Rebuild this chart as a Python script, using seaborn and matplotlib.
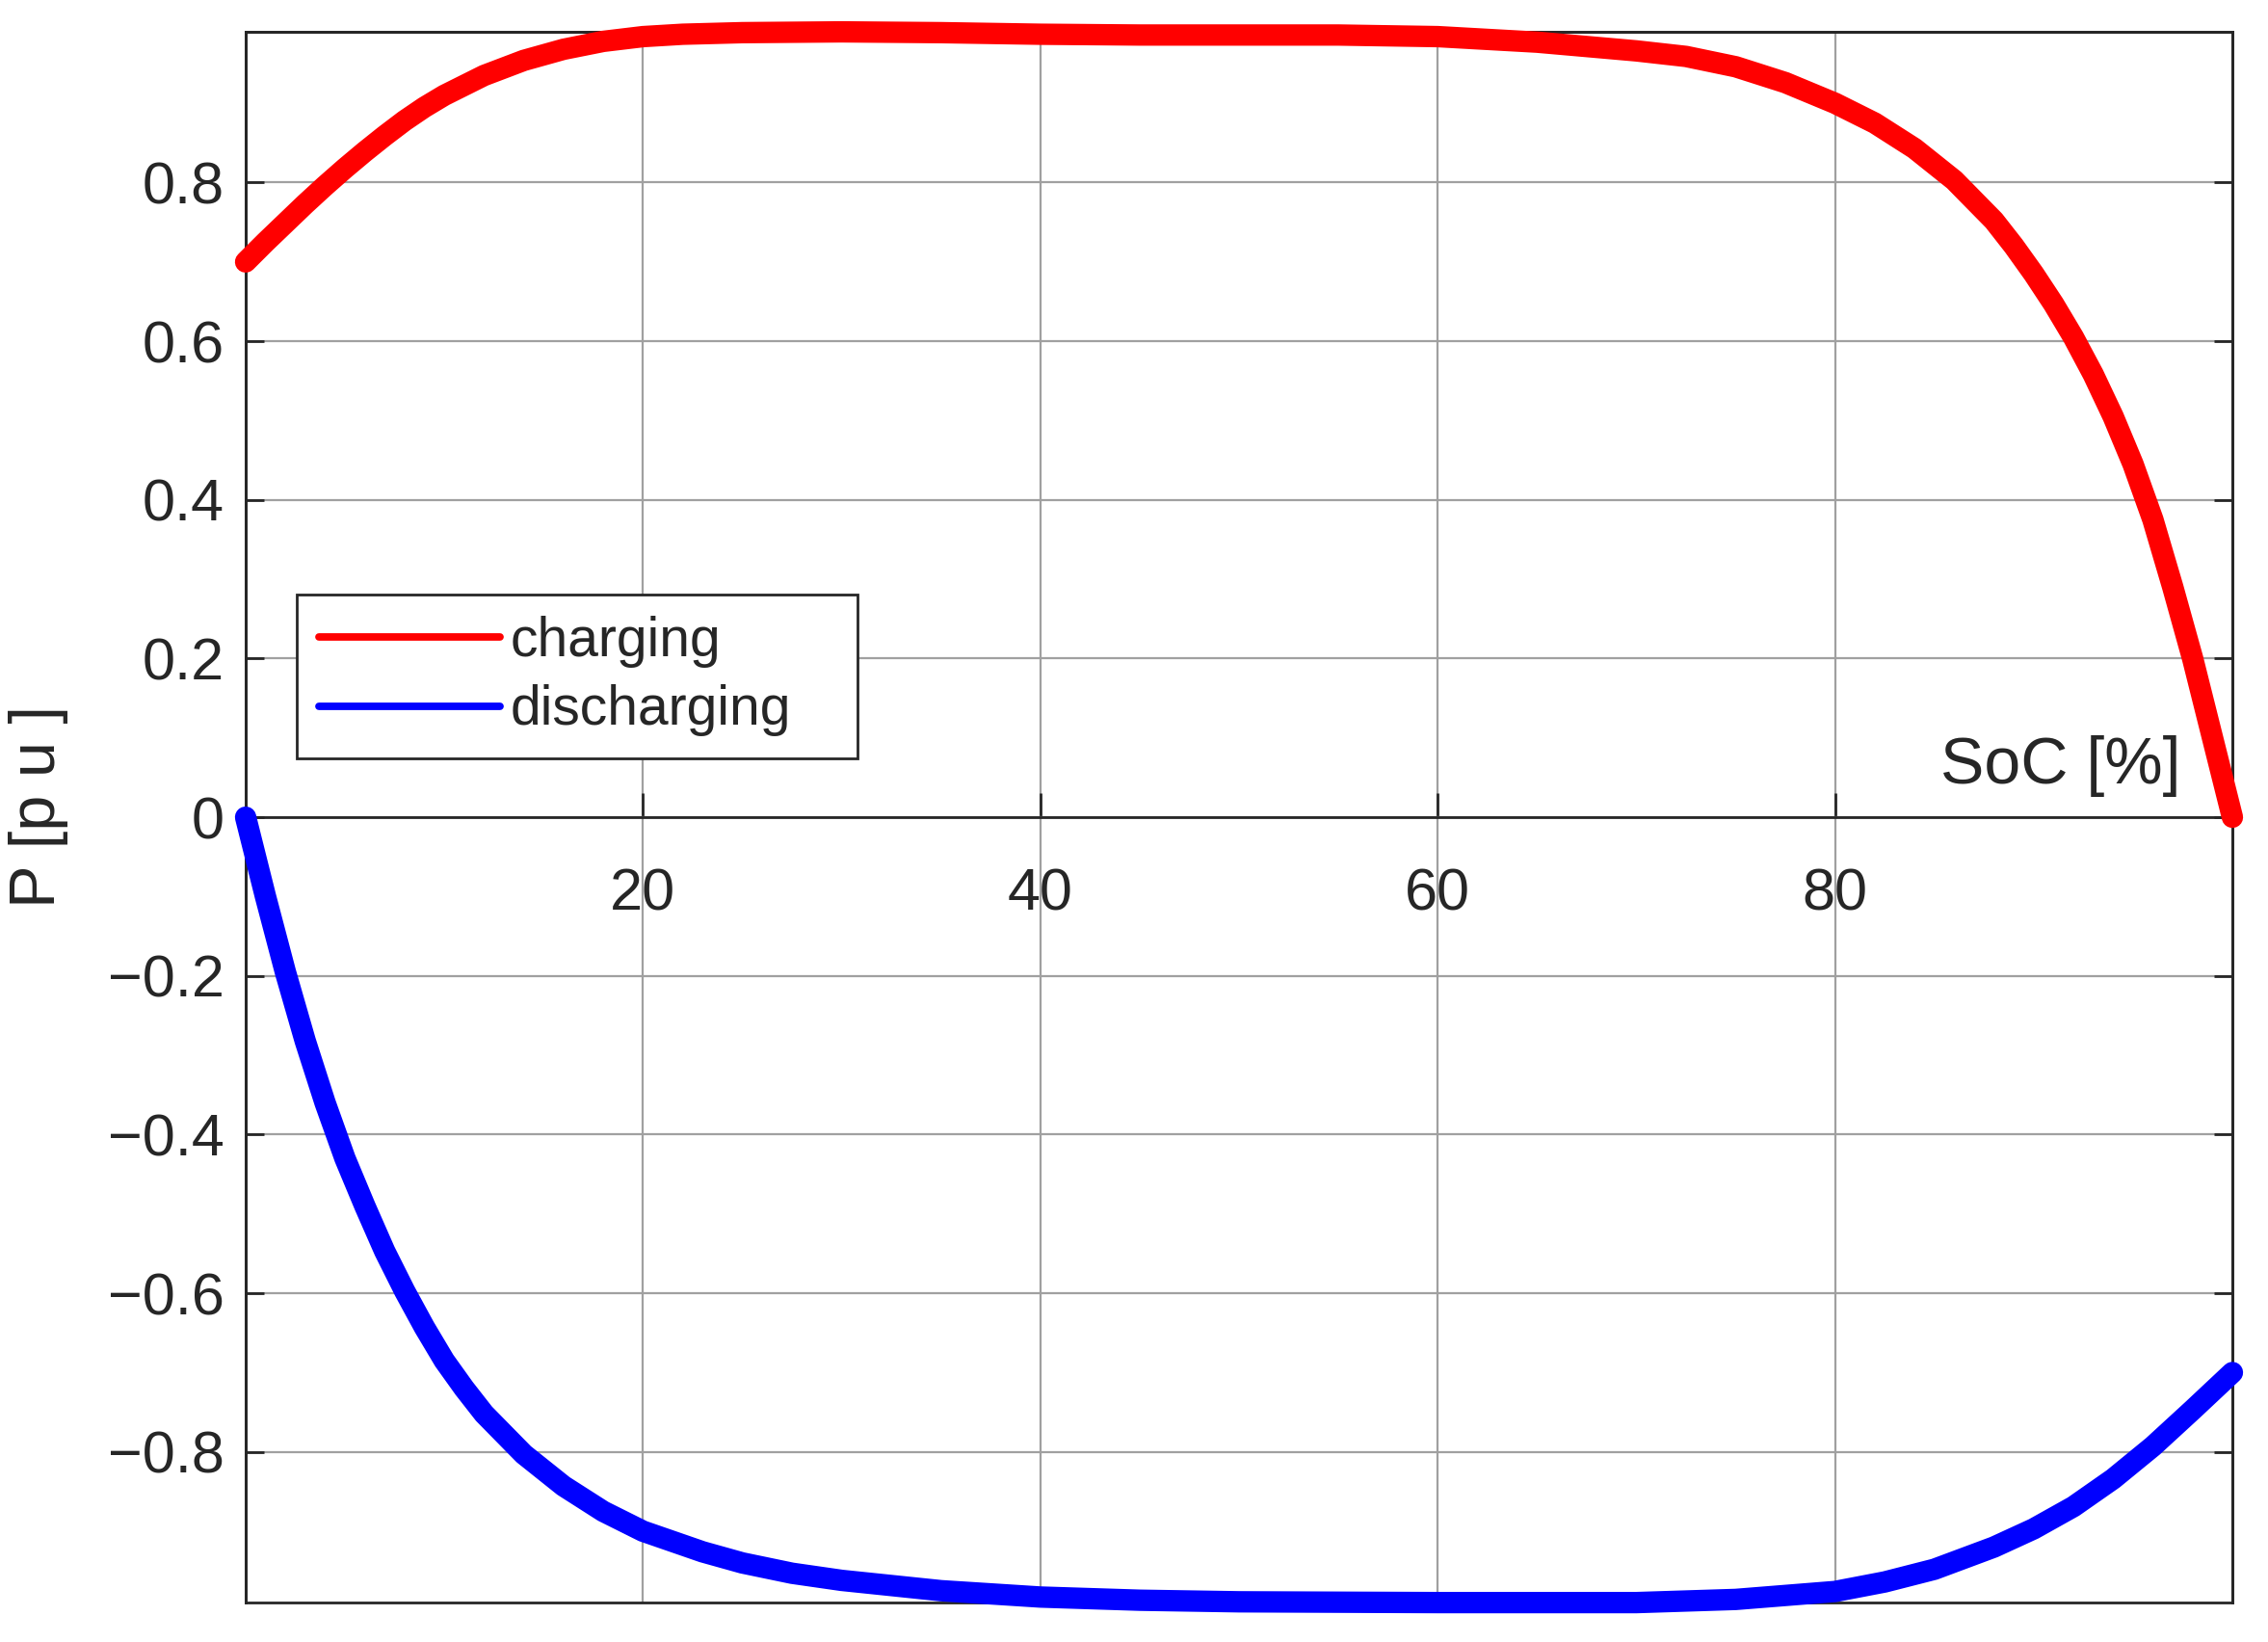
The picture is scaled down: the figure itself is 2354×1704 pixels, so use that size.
import numpy as np
import pandas as pd
import matplotlib.pyplot as plt
import seaborn as sns
from matplotlib.patches import Rectangle

# values
soc_charge = [0, 1, 2, 3, 4, 5, 6, 7, 8, 9, 10, 12, 14, 16, 18, 20, 22, 25, 30, 35, 40, 45,
              50, 55, 60, 65, 70, 72.5, 75, 77.5, 80, 82, 84, 86, 88, 89, 90, 91, 92, 93, 94,
              95, 96, 97, 98, 99, 100]
p_charge = [0.70, 0.725, 0.749, 0.773, 0.796, 0.818, 0.839, 0.859, 0.878, 0.895, 0.91, 0.935,
            0.954, 0.968, 0.978, 0.984, 0.987, 0.989, 0.99, 0.989, 0.987, 0.986,
            0.986, 0.986, 0.984, 0.977, 0.966, 0.959, 0.946, 0.926, 0.90, 0.875, 0.843,
            0.803, 0.752, 0.72, 0.685, 0.647, 0.605, 0.558, 0.505, 0.445, 0.375, 0.29, 0.20,
            0.10, 0.0]

soc_discharge = [0, 1, 2, 3, 4, 5, 6, 7, 8, 9, 10, 11, 12, 14, 16, 18, 20, 23, 25, 27.5, 30,
                 35, 40, 45, 50, 60, 70, 75, 80, 82.5, 85, 88, 90, 92, 94, 96, 98, 100]
p_discharge = [0.0, -0.10, -0.195, -0.282, -0.36, -0.43, -0.49, -0.547, -0.597, -0.643,
               -0.685, -0.72, -0.752, -0.803, -0.843, -0.875, -0.90, -0.926, -0.94, -0.953,
               -0.962, -0.975, -0.983, -0.987, -0.989, -0.99, -0.99, -0.986, -0.976, -0.964,
               -0.948, -0.92, -0.897, -0.869, -0.834, -0.793, -0.747, -0.70]

series_names = ['charging', 'discharging']
series_colors = {'charging': '#ff0000', 'discharging': '#0000ff'}

xtick_vals = [20, 40, 60, 80]
ytick_vals = [-0.8, -0.6, -0.4, -0.2, 0, 0.2, 0.4, 0.6, 0.8]
ytick_labels = ['\u22120.8', '\u22120.6', '\u22120.4', '\u22120.2', '0', '0.2', '0.4', '0.6', '0.8']

df = pd.concat([
    pd.DataFrame({'SoC': soc_charge, 'P': p_charge, 'mode': series_names[0]}),
    pd.DataFrame({'SoC': soc_discharge, 'P': p_discharge, 'mode': series_names[1]}),
], ignore_index=True)

sns.set_style('white')
plt.rcParams['font.family'] = ['Liberation Sans', 'DejaVu Sans']

dark = '#262626'
fig = plt.figure(figsize=(11.77, 8.52), dpi=200)
ax = fig.add_axes([0.1083, 0.024, 0.8760, 0.9566])

sns.lineplot(data=df, x='SoC', y='P', hue='mode', palette=series_colors,
             sort=False, estimator=None, linewidth=8, ax=ax)
for ln in ax.get_lines():
    ln.set_solid_capstyle('round')
    ln.set_solid_joinstyle('round')
    ln.set_clip_on(False)
    ln.set_zorder(5)

ax.set_xlim(0, 100)
ax.set_ylim(-0.99, 0.99)
ax.set_xticks(xtick_vals)
ax.set_yticks(ytick_vals)
ax.set_yticklabels(ytick_labels)

ax.grid(True, color='#a0a0a0', linewidth=0.8)
ax.set_axisbelow(True)

# x axis through the origin, box around the plot
for side in ['left', 'right', 'top', 'bottom']:
    ax.spines[side].set_color(dark)
    ax.spines[side].set_linewidth(1.0)
ax.spines['bottom'].set_position(('data', 0))
ax.spines['bottom'].set_zorder(4)
ax.add_patch(Rectangle((0, 0), 1, 1, transform=ax.transAxes, fill=False,
                       edgecolor=dark, linewidth=1.0, clip_on=False, zorder=4))

ax.tick_params(axis='x', direction='in', length=9, width=1.0, colors=dark,
               labelsize=22, pad=19, bottom=True, top=False)
ax.tick_params(axis='y', direction='in', length=7, width=1.0, colors=dark,
               labelsize=22, pad=8, left=True, right=True)

ax.set_xlabel('')
ax.set_ylabel('P [p u ]', fontsize=24, color=dark)
ax.yaxis.set_label_coords(-0.089, 0.507)
ax.text(97.4, 0.064, 'SoC [%]', fontsize=24.5, color=dark, ha='right', va='center')

handles, labels = ax.get_legend_handles_labels()
leg = ax.legend(handles, labels, loc='upper left',
                bbox_to_anchor=(0.0257, 0.539, 0.2823, 0.103), mode='expand',
                borderaxespad=0, fontsize=20.5, handlelength=3.3, handletextpad=0.2,
                labelspacing=0.3, borderpad=0.4, frameon=True, fancybox=False,
                edgecolor=dark, framealpha=1)
leg.get_frame().set_linewidth(1.0)
leg.set_zorder(6)
for ln in leg.get_lines():
    ln.set_linewidth(2.8)
    ln.set_solid_capstyle('round')

fig.savefig('out.png', dpi=200)
